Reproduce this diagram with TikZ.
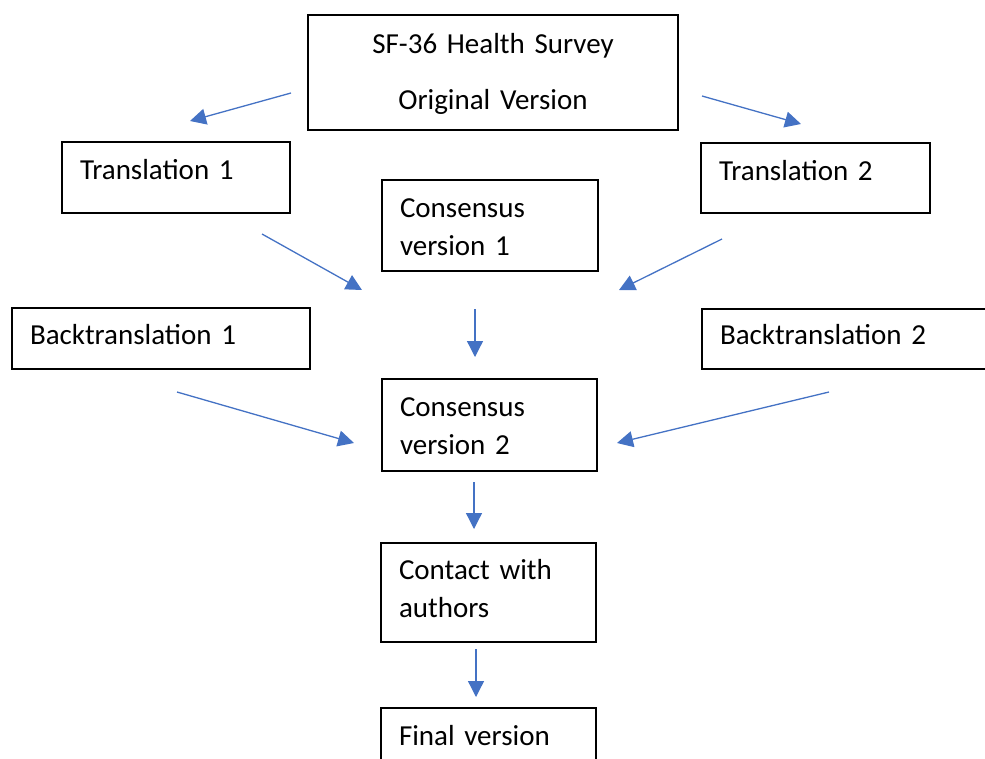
\documentclass[tikz,border=0pt]{standalone}
\usepackage{fontspec}
\setmainfont{Carlito}
\usepackage{xcolor}
\usepackage{tikz}
\usetikzlibrary{arrows.meta,positioning,calc}
\definecolor{flowBlue}{RGB}{68,114,196}

\begin{document}
\begin{tikzpicture}[
x=1pt, y=-1pt,
block/.style={draw, line width=1.2pt, anchor=north west, outer sep=0pt, inner xsep=18pt, inner ysep=0pt, align=left, font=\fontsize{29}{38}\selectfont},
arrow/.style={-{Triangle[length=16pt, width=16pt]}, line width=1.3pt, draw=flowBlue}
]
\useasboundingbox (0,0) rectangle (985,758);
\clip (0,0) rectangle (985,758);

\node[block, align=center, text width=334pt, text height=38pt, text depth=77pt] (orig) at (308,15) {SF-36 Health Survey\\[18pt]Original Version};

\node[block, text width=192pt, text height=37.5pt, text depth=33.5pt] (tr1) at (62,142) {Translation 1};
\node[block, text width=193pt, text height=37pt, text depth=33pt] (tr2) at (701,143) {Translation 2};
\node[block, text width=180pt, text height=37.5pt, text depth=53.5pt] (cons1) at (382,180) {Consensus\\version 1};

\node[block, text width=262pt, text height=36.5pt, text depth=24.5pt] (back1) at (12,308) {Backtranslation 1};
\node[block, text width=274pt, text height=35.5pt, text depth=24.5pt] (back2) at (702,309) {Backtranslation 2};
\node[block, text width=179pt, text height=37.5pt, text depth=54.5pt] (cons2) at (382,379) {Consensus\\version 2};

\node[block, text width=179pt, text height=36.5pt, text depth=62.5pt] (contact) at (381,543) {Contact with\\authors};
\node[block, text width=179pt, text height=37.5pt, text depth=40pt] (final) at (381,708) {Final version};

\coordinate (orig-tr1) at (291,93);   \coordinate (tr1-in) at (190,121);
\coordinate (orig-tr2) at (702,96);   \coordinate (tr2-in) at (801,124);
\coordinate (tr1-out) at (262,234);   \coordinate (cons1-inl) at (362,290);
\coordinate (tr2-out) at (722,239);   \coordinate (cons1-inr) at (619,290);
\coordinate (cons1-out) at (475,309); \coordinate (cons2-in) at (475,357);
\coordinate (back1-out) at (177,392); \coordinate (cons2-inl) at (354,443);
\coordinate (back2-out) at (829,392); \coordinate (cons2-inr) at (617,443);
\coordinate (cons2-out) at (474,482); \coordinate (contact-in) at (474,529);
\coordinate (contact-out) at (476,649); \coordinate (final-in) at (476,697);

\draw[arrow] (orig-tr1) -- (tr1-in);
\draw[arrow] (orig-tr2) -- (tr2-in);
\draw[arrow] (tr1-out) -- (cons1-inl);
\draw[arrow] (tr2-out) -- (cons1-inr);
\draw[arrow] (cons1-out) -- (cons2-in);
\draw[arrow] (back1-out) -- (cons2-inl);
\draw[arrow] (back2-out) -- (cons2-inr);
\draw[arrow] (cons2-out) -- (contact-in);
\draw[arrow] (contact-out) -- (final-in);
\end{tikzpicture}
\end{document}
